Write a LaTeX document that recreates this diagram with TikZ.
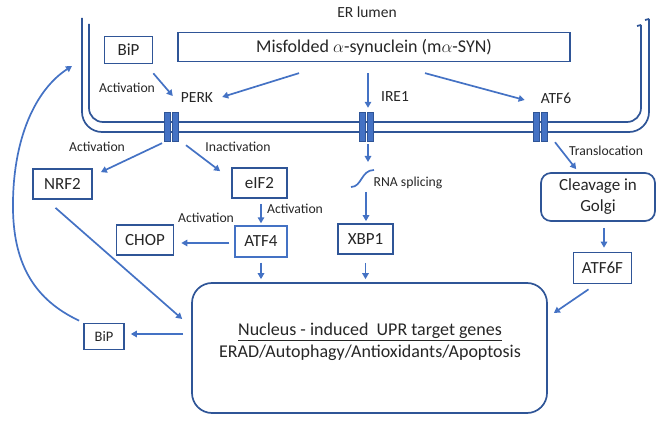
\documentclass[tikz,border=0pt]{standalone}
\usepackage{fontspec}
\setmainfont{Carlito}
\usetikzlibrary{arrows.meta}
\definecolor{ln}{HTML}{4472C4}
\definecolor{bd}{HTML}{2F5597}
\definecolor{tx}{HTML}{262626}
\begin{document}
\begin{tikzpicture}[x=1pt,y=-1pt,
  every node/.style={text=tx},
  arr/.style={draw=ln, line width=1.7pt, -{Triangle[length=6pt,width=6.5pt]}},
  box/.style={draw=bd, line width=1.7pt, inner sep=0pt, font=\fontsize{17}{20}\selectfont, align=center},
  lbl/.style={inner sep=0pt, font=\fontsize{13.7}{16}\selectfont},
  rcp/.style={inner sep=0pt, font=\fontsize{15.5}{18}\selectfont},
  mem/.style={draw=bd, line width=1.7pt},
  chan/.style={inner sep=0pt, minimum width=14pt, minimum height=28pt},
  chanrect/.style={fill=ln, draw=bd, line width=0.6pt}]

\useasboundingbox (0,0) rectangle (661,422);

% membrane
\draw[mem, rounded corners=20pt] (82,18) -- (82,132) -- (649,132) -- (649,19);
\draw[mem, rounded corners=14pt] (89,24) -- (89,122) -- (641,122) -- (641,25);
\draw[mem] (641,25) -- (637,26);
\draw[mem] (649,19) -- (645,20);

% channels
\node[chan] (c1) at (171,127) {};
\node[chan] (c2) at (366,127) {};
\node[chan] (c3) at (540,127) {};
\foreach \n in {c1,c2,c3} {
  \path[chanrect] ([xshift=-7pt]\n.north) rectangle ([xshift=-1pt]\n.south);
  \path[chanrect] ([xshift=1pt]\n.north) rectangle ([xshift=7pt]\n.south);
}

% texts and boxes
\node[rcp] (erl) at (367,12) {ER lumen};
\node[box, minimum width=48pt, minimum height=27pt] (bip1) at (128.5,50) {BiP};
\node[box, line width=1.3pt, minimum width=392pt, minimum height=29pt, font=\fontsize{18}{20}\selectfont] (mis) at (374,47) {Misfolded $\alpha$-synuclein (m$\alpha$-SYN)};
\node[lbl] (act1) at (127,88) {Activation};
\node[rcp] (perk) at (197,98) {PERK};
\node[rcp] (ire) at (395,97) {IRE1};
\node[rcp] (atf6l) at (556,98) {ATF6};
\node[lbl] (act2) at (97,147) {Activation};
\node[lbl] (inact) at (238,147) {Inactivation};
\node[box, minimum width=59pt, minimum height=30pt] (nrf) at (62.5,184) {NRF2};
\node[box, minimum width=55pt, minimum height=30pt] (eif) at (259.5,183) {eIF2};
\node[lbl] (act3) at (295,209) {Activation};
\node[box, draw=ln, line width=1.4pt, minimum width=52pt, minimum height=31pt] (atf4) at (261,241.5) {ATF4};
\node[lbl] (act4) at (206,218) {Activation};
\node[box, minimum width=57pt, minimum height=30pt] (chop) at (145,240) {CHOP};
\node[lbl] (rna) at (408,183) {RNA splicing};
\node[box, minimum width=55pt, minimum height=30pt] (xbp) at (365.5,239) {XBP1};
\node[lbl] (trans) at (606,151) {Translocation};
\node[box, rounded corners=10pt, minimum width=114pt, minimum height=48pt, font=\fontsize{17}{21}\selectfont] (golgi) at (598,197) {Cleavage in\\Golgi};
\node[box, minimum width=58pt, minimum height=31pt] (atf6f) at (602.5,268) {ATF6F};
\node[box, rounded corners=20pt, minimum width=355pt, minimum height=130pt] (nuc) at (369.5,348) {};
\node[inner sep=0pt, font=\fontsize{18}{20}\selectfont] (nt1) at (370,332) {\underline{Nucleus - induced\ \ UPR target genes}};
\node[inner sep=0pt, font=\fontsize{18}{20}\selectfont] (nt2) at (370,353) {ERAD/Autophagy/Antioxidants/Apoptosis};
\node[box, minimum width=40pt, minimum height=26pt, font=\fontsize{14.5}{16}\selectfont] (bip2) at (104,336.5) {BiP};

% squiggle (RNA splicing)
\coordinate (sq1) at (351,187);
\coordinate (sq2) at (374,170);
\draw[draw=ln, line width=1.7pt] (sq1) .. controls (362,187) and (361,170) .. (sq2);

\coordinate (t1) at (nuc.north -| atf4.south);
\coordinate (t2) at (nuc.north -| xbp.south);
\coordinate (ertip) at (72,66);

% arrows
\draw[arr] ([shift={(0,9)}]bip1.south east) -- ([shift={(-8,-2)}]perk.west);
\draw[arr] ([shift={(-75,11)}]mis.south) -- ([shift={(9,-1)}]perk.east);
\draw[arr] ([shift={(-6,11)}]mis.south) -- ([shift={(2,-5)}]c2.north);
\draw[arr] ([shift={(51,11)}]mis.south) -- ([shift={(-16,2)}]atf6l.west);
\draw[arr] ([shift={(-9,2)}]c1.south) -- ([shift={(8,4)}]nrf.north east);
\draw[arr] ([shift={(15,4)}]c1.south) -- ([shift={(-11,4)}]eif.north west);
\draw[arr] ([shift={(1.5,5)}]eif.south) -- ([shift={(0,-2)}]atf4.north);
\draw[arr] ([shift={(-5,1.5)}]atf4.west) -- ([shift={(7,3)}]chop.east);
\draw[arr] ([shift={(0,5)}]atf4.south) -- ([shift={(0,-3)}]t1);
\draw[arr] ([shift={(-7,8)}]nrf.south) -- ([shift={(-9,-29)}]nuc.west);
\draw[arr] ([shift={(2,3)}]c2.south) -- ([shift={(-6,-8)}]sq2);
\draw[arr] ([shift={(15,5)}]sq1) -- ([shift={(0.5,-2)}]xbp.north);
\draw[arr] ([shift={(0,8)}]xbp.south) -- ([shift={(0,-3)}]t2);
\draw[arr] ([shift={(15,1)}]c3.south) -- ([shift={(36,-3)}]golgi.north west);
\draw[arr] ([shift={(6,6)}]golgi.south) -- ([shift={(1.5,-4)}]atf6f.north);
\draw[arr] ([shift={(-14,5)}]atf6f.south) -- ([shift={(6,-35)}]nuc.east);
\draw[arr] ([shift={(-8,-14)}]nuc.west) -- ([shift={(6,-2.5)}]bip2.east);
\draw[arr] ([shift={(-4,-2)}]bip2.north west) .. controls (35,300) and (14,265) .. (13,210)
   .. controls (12,140) and (35,90) .. (ertip);
\end{tikzpicture}
\end{document}
